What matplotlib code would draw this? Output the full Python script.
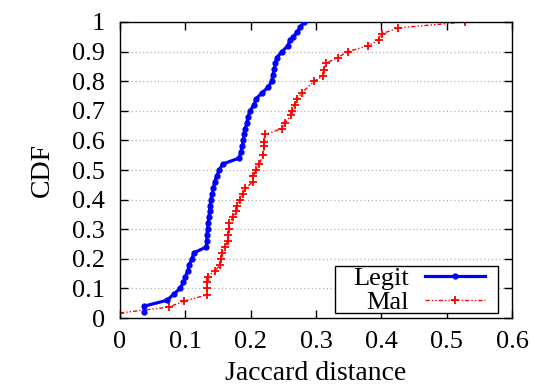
import matplotlib
matplotlib.use("Agg")
import matplotlib.pyplot as plt
from matplotlib.ticker import FixedLocator
from matplotlib.patches import Rectangle

legit_x = [0.037, 0.037, 0.072, 0.082, 0.092, 0.097, 0.100, 0.104, 0.106, 0.110, 0.113,
           0.132, 0.133, 0.133, 0.134, 0.135, 0.136, 0.137, 0.138, 0.139, 0.141,
           0.143, 0.145, 0.148, 0.152, 0.157, 0.182, 0.185, 0.187, 0.189, 0.190,
           0.192, 0.194, 0.196, 0.199, 0.205, 0.208, 0.217, 0.227, 0.232, 0.234,
           0.236, 0.238, 0.240, 0.248, 0.257, 0.260, 0.265, 0.271, 0.276, 0.282]
legit_y = [0.02, 0.04, 0.06, 0.08, 0.10, 0.12, 0.14, 0.16, 0.18, 0.20, 0.22,
           0.24, 0.26, 0.28, 0.30, 0.32, 0.34, 0.36, 0.38, 0.40, 0.42,
           0.44, 0.46, 0.48, 0.50, 0.52, 0.54, 0.56, 0.58, 0.60, 0.62,
           0.64, 0.66, 0.68, 0.70, 0.72, 0.74, 0.76, 0.78, 0.80, 0.82,
           0.84, 0.86, 0.88, 0.90, 0.92, 0.94, 0.95, 0.966, 0.983, 1.0]

mal_x = [0.0, 0.075, 0.098, 0.133, 0.133, 0.133, 0.134, 0.146, 0.153, 0.155, 0.156,
         0.160, 0.165, 0.166, 0.167, 0.167, 0.173, 0.178, 0.179, 0.184, 0.188,
         0.192, 0.204, 0.204, 0.208, 0.213, 0.219, 0.221, 0.221, 0.222, 0.248,
         0.253, 0.262, 0.263, 0.268, 0.271, 0.278, 0.297, 0.310, 0.312, 0.315,
         0.333, 0.349, 0.380, 0.396, 0.401, 0.425, 0.528]
mal_y = [0.017, 0.037, 0.057, 0.078, 0.10, 0.12, 0.14, 0.16, 0.18, 0.20, 0.22,
         0.24, 0.26, 0.28, 0.30, 0.32, 0.34, 0.36, 0.38, 0.40, 0.42,
         0.44, 0.46, 0.48, 0.50, 0.52, 0.55, 0.58, 0.595, 0.62, 0.64,
         0.66, 0.685, 0.70, 0.72, 0.74, 0.76, 0.80, 0.817, 0.838, 0.86,
         0.88, 0.90, 0.92, 0.94, 0.96, 0.98, 1.0]

x_ticks = [0, 0.1, 0.2, 0.3, 0.4, 0.5, 0.6]
x_tick_labels = ["0", "0.1", "0.2", "0.3", "0.4", "0.5", "0.6"]
y_ticks = [0, 0.1, 0.2, 0.3, 0.4, 0.5, 0.6, 0.7, 0.8, 0.9, 1.0]
y_tick_labels = ["0", "0.1", "0.2", "0.3", "0.4", "0.5", "0.6", "0.7", "0.8", "0.9", "1"]

plt.rcParams['font.family'] = ['Liberation Serif', 'DejaVu Serif']

fig = plt.figure(figsize=(5.35, 3.88), dpi=100)
ax = fig.add_axes([0.2243, 0.1804, 0.957 - 0.2243, 0.9433 - 0.1804])

for yt in y_ticks[1:-1]:
    ax.axhline(yt, color='#b0b0b0', linestyle=(0, (1, 2)), linewidth=0.9, zorder=0)

ax.plot(legit_x, legit_y, color='#0000ff', linewidth=2.3, marker='o', markersize=3.5,
        label='Legit', zorder=3)
ax.plot(mal_x, mal_y, color='#ff0000', linewidth=1.0, linestyle=(0, (3, 1.5, 1, 1.5, 1, 1.5)),
        marker='+', markersize=6, markeredgewidth=1.3, label='Mal', zorder=2)

ax.set_xlim(0, 0.6)
ax.set_ylim(0, 1)
ax.xaxis.set_major_locator(FixedLocator(x_ticks))
ax.yaxis.set_major_locator(FixedLocator(y_ticks))
ax.set_xticklabels(x_tick_labels)
ax.set_yticklabels(y_tick_labels)
ax.tick_params(direction='in', top=True, right=True, length=6, width=1,
               labelsize=19)
ax.tick_params(axis='y', pad=11)
ax.tick_params(axis='x', pad=9)
for s in ax.spines.values():
    s.set_linewidth(1.0)

ax.set_xlabel('Jaccard distance', fontsize=20, labelpad=6)
ax.set_ylabel('CDF', fontsize=20, labelpad=12)

# legend box
ax.add_patch(Rectangle((0.548, 0.017), 0.964 - 0.548, 0.176 - 0.017,
                       transform=ax.transAxes, facecolor='white',
                       edgecolor='black', linewidth=1.0, zorder=4))
leg = ax.legend(loc='center', markerfirst=False, fontsize=19, frameon=False,
                handlelength=2.3, borderpad=0.0, labelspacing=0.0,
                handletextpad=0.6, borderaxespad=0.0,
                bbox_to_anchor=(0.763, 0.093))
leg.set_zorder(5)

fig.savefig('out.png', dpi=100)
